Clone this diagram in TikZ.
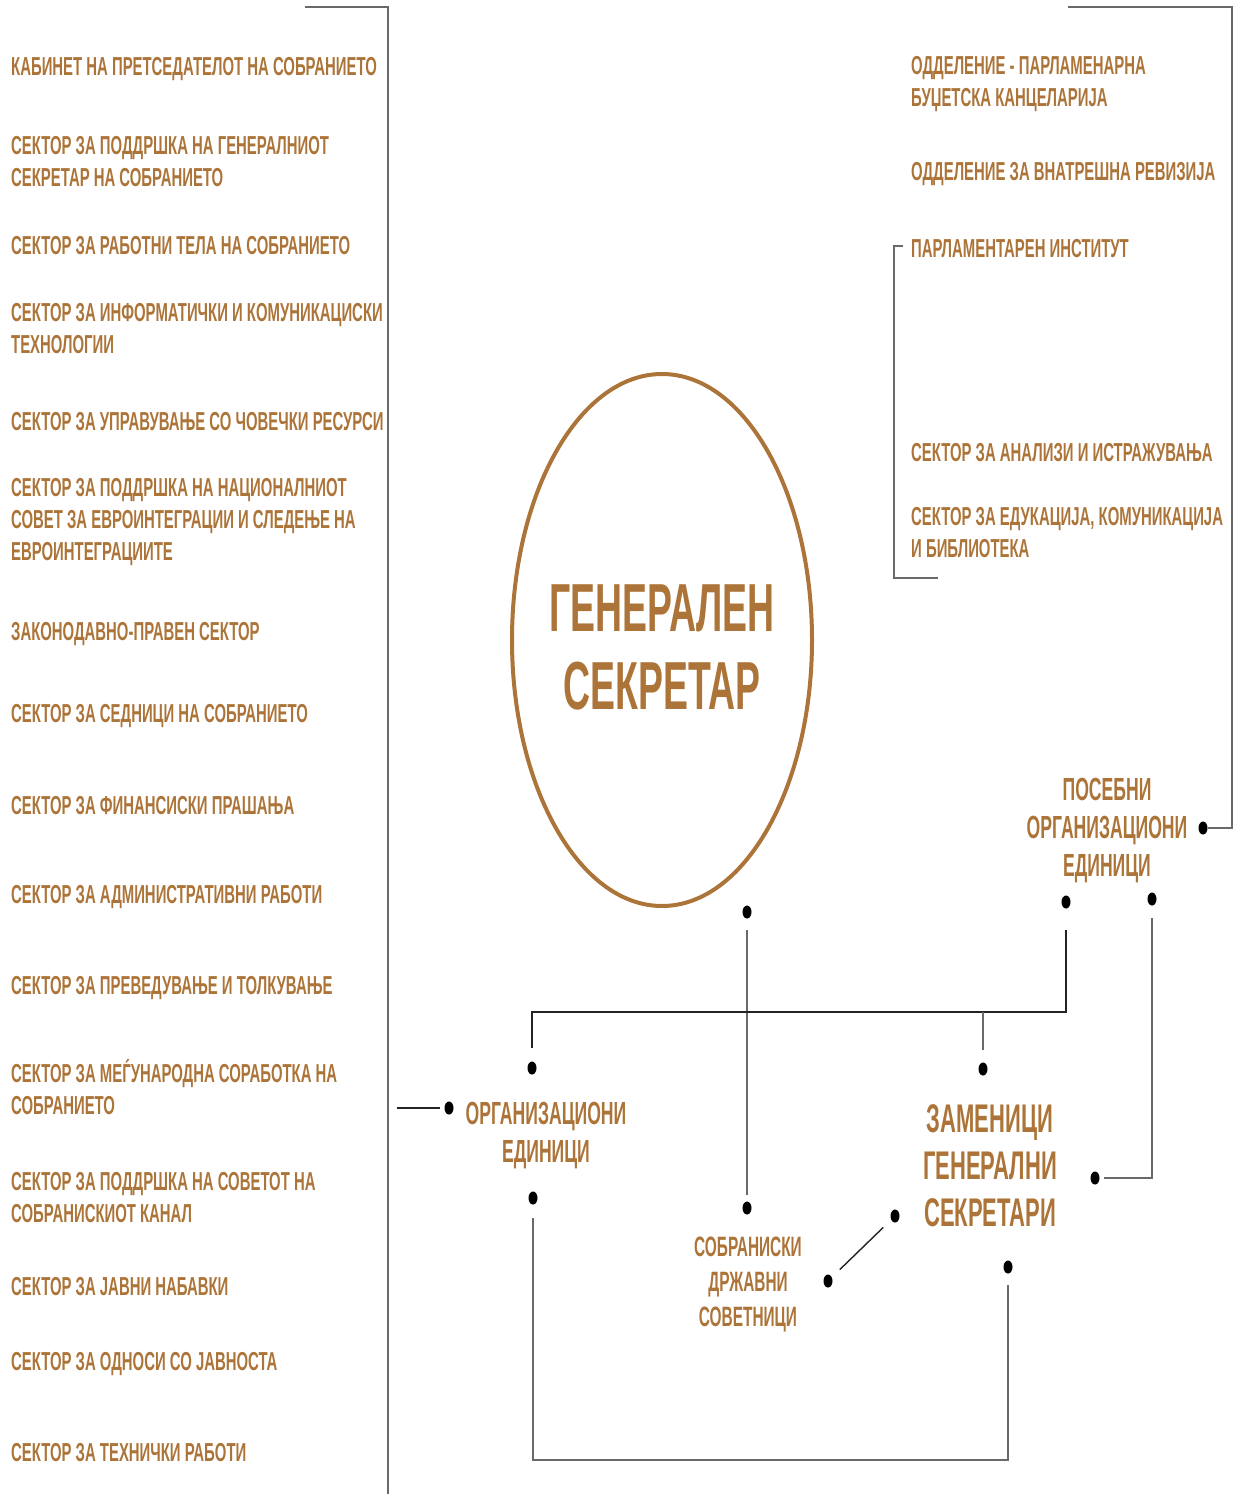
\documentclass[tikz,border=0pt]{standalone}
\usepackage{fontspec}
\newfontfamily\condsans{Liberation Sans}[FakeStretch=0.55]
\newfontfamily\listsans{Liberation Sans}[FakeStretch=0.573]
\usepackage{xcolor}
\definecolor{ochre}{RGB}{172, 116, 56}
\definecolor{linegrey}{RGB}{105, 105, 105}
\definecolor{darkline}{RGB}{35, 35, 35}
\usepackage{tikz}
\usetikzlibrary{positioning, calc, shapes.geometric}

\tikzset{
    unit/.style={font=\listsans\bfseries\fontsize{26}{32}\selectfont, text=ochre,
        inner sep=0pt, align=left, anchor=west, yshift=-3pt},
    midlabel/.style={font=\condsans\bfseries\fontsize{32}{38}\selectfont, text=ochre,
        inner sep=0pt, align=center, yshift=-3pt},
    dot/.style={ellipse, fill=black, inner sep=0pt, minimum width=9, minimum height=13},
    greyline/.style={linegrey, line width=1.4pt},
    blackline/.style={darkline, line width=1.8pt}
}

\begin{document}
\begin{tikzpicture}[x=1pt, y=-1pt]
    \useasboundingbox (0,0) rectangle (1233,1494);

    % general secretary
    \node[ellipse, draw=ochre, line width=4pt, minimum width=300, minimum height=532] (gs) at (662,640) {};
    \node[midlabel, font=\condsans\bfseries\fontsize{68}{78}\selectfont] (gsTitle) at (662,644) {ГЕНЕРАЛЕН\\СЕКРЕТАР};

    % left column: organisational units
    \node[unit] (uCabinet) at (11,66) {КАБИНЕТ НА ПРЕТСЕДАТЕЛОТ НА СОБРАНИЕТО};
    \node[unit] (uSupportGs) at (11,159) {СЕКТОР ЗА ПОДДРШКА НА ГЕНЕРАЛНИОТ\\СЕКРЕТАР НА СОБРАНИЕТО};
    \node[unit] (uBodies) at (11,243) {СЕКТОР ЗА РАБОТНИ ТЕЛА НА СОБРАНИЕТО};
    \node[unit] (uIct) at (11,326) {СЕКТОР ЗА ИНФОРМАТИЧКИ И КОМУНИКАЦИСКИ\\ТЕХНОЛОГИИ};
    \node[unit] (uHr) at (11,419) {СЕКТОР ЗА УПРАВУВАЊЕ СО ЧОВЕЧКИ РЕСУРСИ};
    \node[unit] (uEu) at (11,519) {СЕКТОР ЗА ПОДДРШКА НА НАЦИОНАЛНИОТ\\СОВЕТ ЗА ЕВРОИНТЕГРАЦИИ И СЛЕДЕЊЕ НА\\ЕВРОИНТЕГРАЦИИТЕ};
    \node[unit] (uLegal) at (11,631) {ЗАКОНОДАВНО-ПРАВЕН СЕКТОР};
    \node[unit] (uSessions) at (11,713) {СЕКТОР ЗА СЕДНИЦИ НА СОБРАНИЕТО};
    \node[unit] (uFinance) at (11,803) {СЕКТОР ЗА ФИНАНСИСКИ ПРАШАЊА};
    \node[unit] (uAdmin) at (11,894) {СЕКТОР ЗА АДМИНИСТРАТИВНИ РАБОТИ};
    \node[unit] (uTransl) at (11,985) {СЕКТОР ЗА ПРЕВЕДУВАЊЕ И ТОЛКУВАЊЕ};
    \node[unit] (uIntl) at (11,1084) {СЕКТОР ЗА МЕЃУНАРОДНА СОРАБОТКА НА\\СОБРАНИЕТО};
    \node[unit] (uChannel) at (11,1195) {СЕКТОР ЗА ПОДДРШКА НА СОВЕТОТ НА\\СОБРАНИСКИОТ КАНАЛ};
    \node[unit] (uProcure) at (11,1284) {СЕКТОР ЗА ЈАВНИ НАБАВКИ};
    \node[unit] (uPublic) at (11,1361) {СЕКТОР ЗА ОДНОСИ СО ЈАВНОСТА};
    \node[unit] (uTech) at (11,1450) {СЕКТОР ЗА ТЕХНИЧКИ РАБОТИ};

    % right column: special units
    \node[unit] (sBudget) at (911,81) {ОДДЕЛЕНИЕ - ПАРЛАМЕНАРНА\\БУЏЕТСКА КАНЦЕЛАРИЈА};
    \node[unit] (sAudit) at (911,171) {ОДДЕЛЕНИЕ ЗА ВНАТРЕШНА РЕВИЗИЈА};
    \node[unit] (sInstitute) at (911,246) {ПАРЛАМЕНТАРЕН ИНСТИТУТ};
    \node[unit] (sResearch) at (911,450) {СЕКТОР ЗА АНАЛИЗИ И ИСТРАЖУВАЊА};
    \node[unit] (sEducation) at (911,530) {СЕКТОР ЗА ЕДУКАЦИЈА, КОМУНИКАЦИЈА\\И БИБЛИОТЕКА};

    % group labels
    \node[midlabel] (orgUnits) at (546,1133) {ОРГАНИЗАЦИОНИ\\ЕДИНИЦИ};
    \node[midlabel] (posUnits) at (1107,828) {ПОСЕБНИ\\ОРГАНИЗАЦИОНИ\\ЕДИНИЦИ};
    \node[midlabel, font=\condsans\bfseries\fontsize{40}{47}\selectfont] (deputies) at (990,1163) {ЗАМЕНИЦИ\\ГЕНЕРАЛНИ\\СЕКРЕТАРИ};
    \node[midlabel, font=\condsans\bfseries\fontsize{28}{35}\selectfont] (advisors) at (748,1281) {СОБРАНИСКИ\\ДРЖАВНИ\\СОВЕТНИЦИ};

    % dots
    \node[dot] (dGs) at (747,912) {};
    \node[dot] (dPosL) at (1066,902) {};
    \node[dot] (dPosR) at (1152,899) {};
    \node[dot] (dPosE) at (1203,828) {};
    \node[dot] (dOrgT) at (532,1068) {};
    \node[dot] (dOrgL) at (449,1108) {};
    \node[dot] (dOrgB) at (533,1198) {};
    \node[dot] (dZamT) at (983,1069) {};
    \node[dot] (dZamL) at (895,1216) {};
    \node[dot] (dZamR) at (1095,1178) {};
    \node[dot] (dZamB) at (1008,1267) {};
    \node[dot] (dAdvT) at (747,1208) {};
    \node[dot] (dAdvR) at (828,1281) {};

    % helper coordinates
    \coordinate (lTop) at (305,7);
    \coordinate (lCorner) at (388,7);
    \coordinate (lBottom) at (388,1494);
    \coordinate (rTop) at (1068,7);
    \coordinate (rCorner) at (1232,7);
    \coordinate (bus) at (532,1012);
    \coordinate (busB) at (533,1460);
    \coordinate (leftTap) at (397,1108);
    \coordinate (brTop) at (903,246);
    \coordinate (brTopC) at (894,246);
    \coordinate (brBotC) at (894,578);
    \coordinate (brBot) at (938,578);

    % brackets
    \draw[greyline] (lTop) -- (lCorner) -- (lBottom);
    \draw[greyline] (dPosE) -| (rCorner) -- (rTop);
    \draw[greyline, line width=1.2pt] (brTop) -- (brTopC) -- (brBotC) -- (brBot);

    % connectors
    \draw[greyline, shorten <=11.5, shorten >=6.5] (dGs) -- (dAdvT);
    \draw[blackline, shorten <=21.5, shorten >=13.5] (dPosL) -- (dPosL |- bus) -- (bus) -- (dOrgT);
    \draw[greyline, shorten >=12.5] (bus -| dZamT) -- (dZamT);
    \draw[greyline, shorten <=12.5, shorten >=4.5] (dPosR) |- (dZamR);
    \draw[blackline, shorten >=4.5] (leftTap) -- (dOrgL);
    \draw[greyline, shorten <=13.5, shorten >=11.5] (dOrgB) -- (busB) -| (dZamB);
    \draw[blackline, line width=1.4pt, shorten <=11, shorten >=11] (dAdvR) -- (dZamL);
\end{tikzpicture}
\end{document}
